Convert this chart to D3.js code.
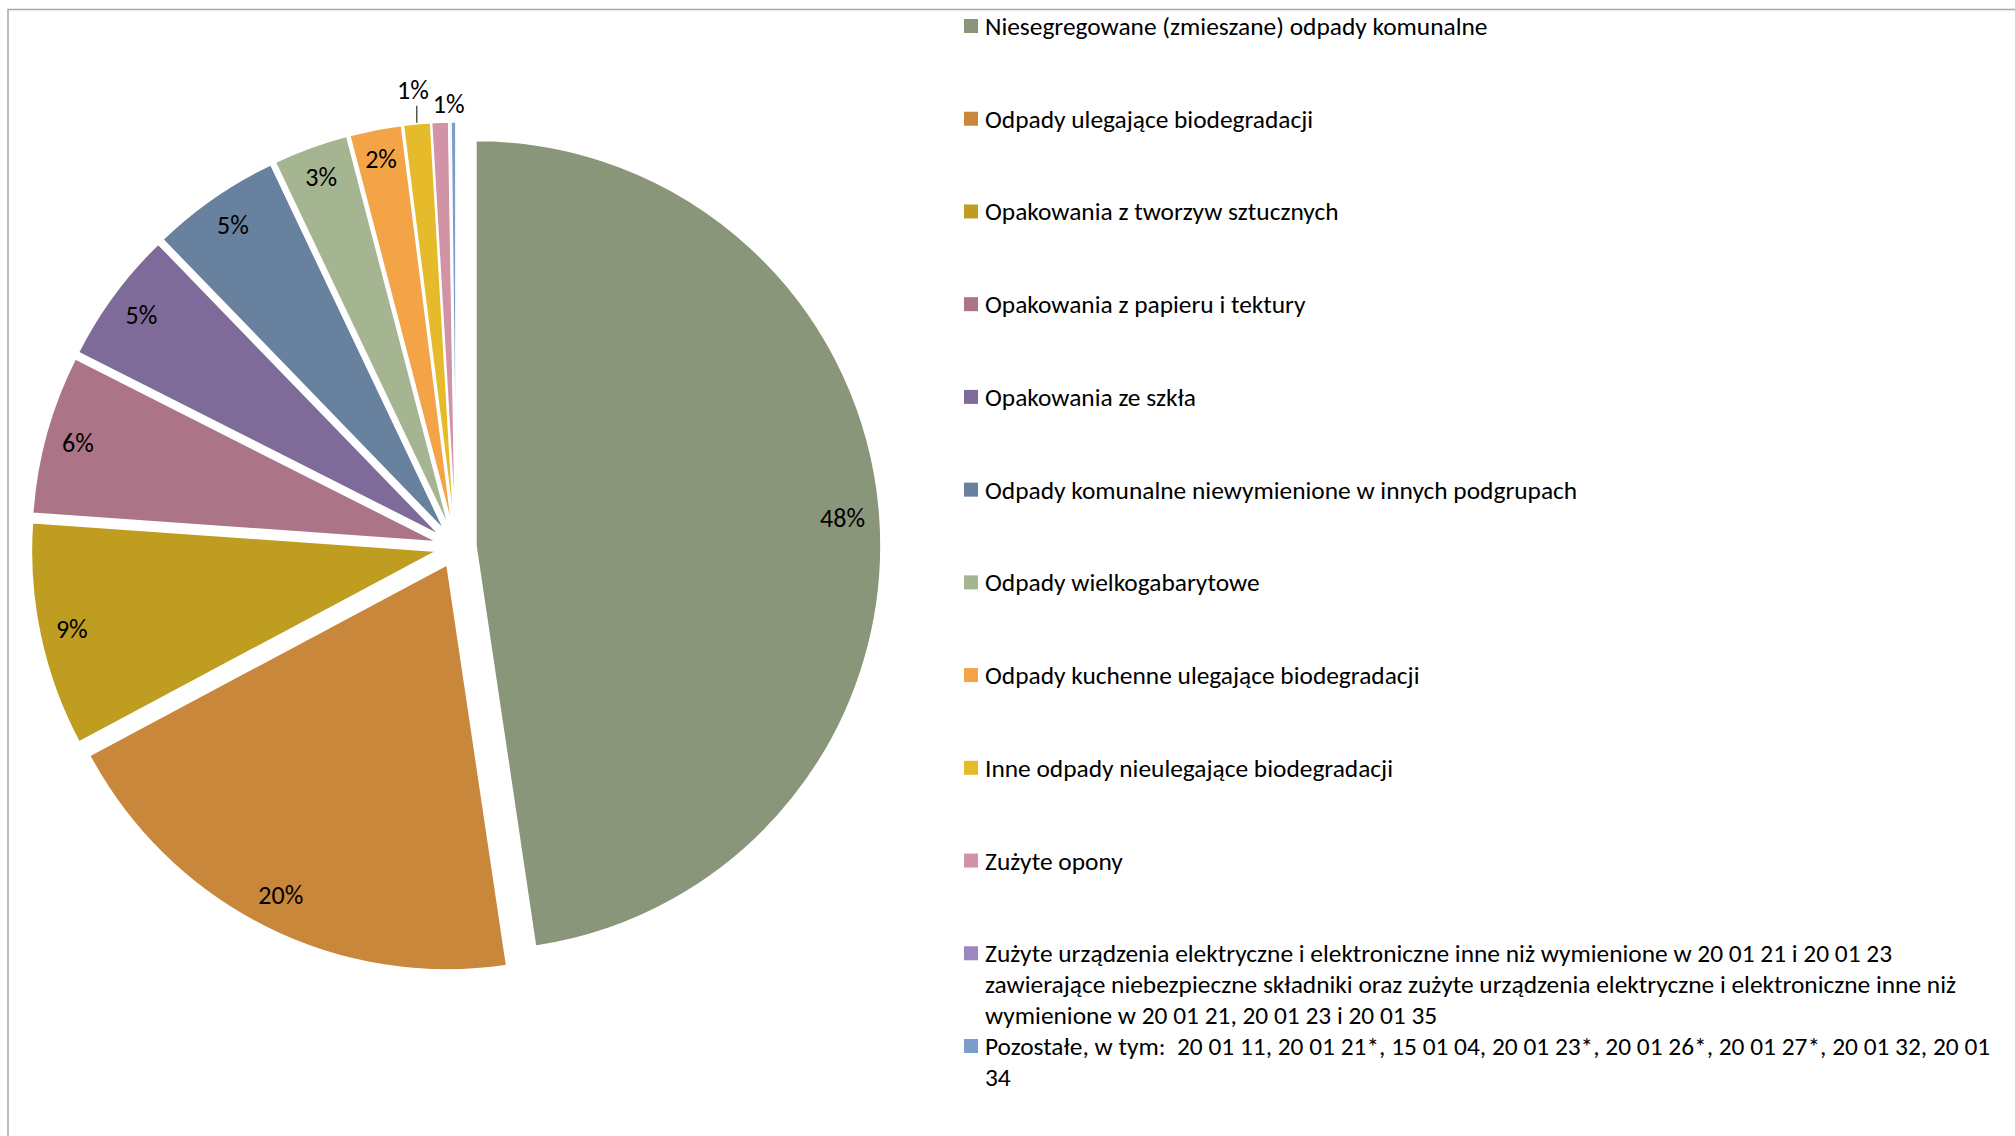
<!DOCTYPE html>
<html>
<head>
<meta charset="utf-8">
<script src="https://cdn.jsdelivr.net/npm/d3@7"></script>
<style>
  html, body { margin: 0; padding: 0; background: #fff; }
  svg { display: block; font-family: Carlito, Calibri, Lato, "Noto Sans", sans-serif; }
</style>
</head>
<body>
<div id="chart"></div>
<script>
'use strict';

// categories (legend order = slice order, clockwise from 12 o'clock)
var categories = [
  'Niesegregowane (zmieszane) odpady komunalne',
  'Odpady ulegające biodegradacji',
  'Opakowania z tworzyw sztucznych',
  'Opakowania z papieru i tektury',
  'Opakowania ze szkła',
  'Odpady komunalne niewymienione w innych podgrupach',
  'Odpady wielkogabarytowe',
  'Odpady kuchenne ulegające biodegradacji',
  'Inne odpady nieulegające biodegradacji',
  'Zużyte opony',
  'Zużyte urządzenia elektryczne i elektroniczne inne niż wymienione w 20 01 21 i 20 01 23\nzawierające niebezpieczne składniki oraz zużyte urządzenia elektryczne i elektroniczne inne niż\nwymienione w 20 01 21, 20 01 23 i 20 01 35',
  'Pozostałe, w tym:  20 01 11, 20 01 21*, 15 01 04, 20 01 23*, 20 01 26*, 20 01 27*, 20 01 32, 20 01\n34'
];

// share of each category, %
var shares = [47.65, 19.55, 8.92, 6.33, 5.31, 5.18, 2.99, 2.07, 1.07, 0.67, 0.07, 0.19];

var colors = ['#8a9679', '#c8873b', '#bf9d21', '#ac7587', '#7f6b9a', '#68819e',
              '#a6b591', '#f2a446', '#e5bb2b', '#d393a6', '#9b87c3', '#7c9dc9'];

// where each data label goes
var labelModes = ['in', 'in', 'in', 'in', 'in', 'in', 'in', 'in', 'leader', 'out', 'none', 'none'];

var W = 2015, H = 1136;
var cx = 456, cy = 547, R = 405, explode = 20;

var data = categories.map(function(c, i) {
  return {name: c, v: shares[i], color: colors[i], mode: labelModes[i]};
});
var total = d3.sum(shares);

var svg = d3.select('#chart').append('svg')
  .attr('width', W)
  .attr('height', H);

svg.append('rect')
  .attr('width', W).attr('height', H)
  .attr('fill', '#fff');

// chart area border (only top and left are inside the picture)
svg.append('rect')
  .attr('x', 8).attr('y', 9.5)
  .attr('width', W + 20).attr('height', H + 20)
  .attr('fill', 'none')
  .attr('stroke', '#a8a8a8')
  .attr('stroke-width', 1.5);

var pie = d3.pie().sort(null).value(function(d) { return d.v; });
var arc = d3.arc().innerRadius(0).outerRadius(R);
var arcs = pie(data);

function mid(d) { return (d.startAngle + d.endAngle) / 2; }
function polar(a, r) { return [r * Math.sin(a), -r * Math.cos(a)]; }
function apex(d) {
  var o = polar(mid(d), explode);
  return [cx + o[0], cy + o[1]];
}

var slices = svg.append('g').attr('class', 'slices')
  .selectAll('g')
  .data(arcs)
  .enter().append('g')
  .attr('transform', function(d) { return 'translate(' + apex(d) + ')'; });

slices.append('path')
  .attr('d', arc)
  .attr('fill', function(d) { return d.data.color; })
  .attr('stroke', '#fff')
  .attr('stroke-width', 1.5)
  .attr('stroke-linejoin', 'round');

// data labels
var labelLayer = svg.append('g').attr('class', 'labels')
  .style('font-size', '26px')
  .attr('fill', '#000');

var pad = 14;
var prevBox = null;
arcs.forEach(function(d) {
  var mode = d.data.mode;
  if (mode === 'none') return;
  var txt = Math.round(d.data.v / total * 100) + '%';
  var a = mid(d), p0 = apex(d);

  var t = labelLayer.append('text')
    .attr('text-anchor', 'middle')
    .attr('dominant-baseline', 'central')
    .text(txt);
  var b = t.node().getBBox();
  var hw = b.width / 2, hh = b.height / 2 * 0.8;

  var pos;
  if (mode === 'in') {
    // inside end: push the box against the rim
    var ext = Math.abs(hw * Math.sin(a)) + Math.abs(hh * Math.cos(a));
    var o = polar(a, R - pad - ext);
    pos = [p0[0] + o[0], p0[1] + o[1]];
  }
  else if (mode === 'leader') {
    var e = polar(a, R + 1);
    var x = p0[0] + e[0], y = p0[1] + e[1];
    labelLayer.append('line')
      .attr('x1', x).attr('y1', y)
      .attr('x2', x).attr('y2', y - 17)
      .attr('stroke', '#000')
      .attr('stroke-width', 1);
    pos = [x - 4, y - 17 - hh - 3];
  }
  else {
    var o2 = polar(a, R + 6 + hh);
    pos = [p0[0] + o2[0], p0[1] + o2[1]];
  }
  t.attr('x', pos[0]).attr('y', pos[1]);

  b = t.node().getBBox();
  // push outside labels right so they do not collide with the previous one
  if (mode !== 'in' && prevBox && b.x < prevBox.x + prevBox.width + 4) {
    var shift = prevBox.x + prevBox.width + 4 - b.x;
    t.attr('x', pos[0] + shift);
    b = t.node().getBBox();
  }
  if (mode !== 'in') prevBox = b;
});

// legend
var ly = d3.scalePoint().domain(categories).range([26, 1046]);
var lineH = 31;

var legend = svg.append('g').attr('class', 'legend')
  .attr('transform', 'translate(964,0)')
  .selectAll('g')
  .data(data)
  .enter().append('g')
  .attr('transform', function(d) { return 'translate(0,' + ly(d.name) + ')'; });

legend.append('rect')
  .attr('x', 0).attr('y', -7)
  .attr('width', 14).attr('height', 14)
  .attr('fill', function(d) { return d.color; });

legend.append('text')
  .attr('x', 21)
  .attr('dominant-baseline', 'central')
  .style('font-size', '25.4px')
  .style('white-space', 'pre')
  .attr('fill', '#000')
  .selectAll('tspan')
  .data(function(d) { return d.name.split('\n'); })
  .enter().append('tspan')
  .attr('x', 21)
  .attr('y', function(s, i) { return i * lineH; })
  .text(function(s) { return s; });
</script>
</body>
</html>
